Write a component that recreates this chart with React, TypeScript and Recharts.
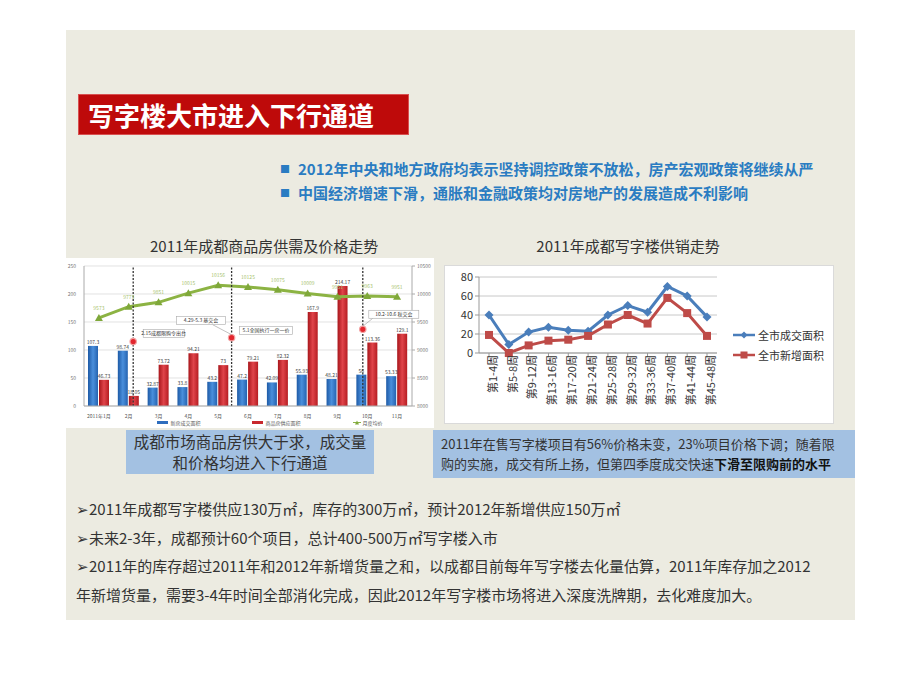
import {
  ComposedChart,
  LineChart,
  Bar,
  Line,
  XAxis,
  YAxis,
  CartesianGrid,
  Legend,
  ReferenceLine,
  ReferenceDot,
  LabelList,
} from 'recharts';

const FONT = '"Noto Sans CJK SC", "Noto Sans", sans-serif';

// 左图：2011年成都商品房供需及价格走势
const months = ['2011年1月', '2月', '3月', '4月', '5月', '6月', '7月', '8月', '9月', '10月', '11月'];
const dealArea = [107.3, 98.74, 32.87, 33.8, 43.2, 47.2, 42.09, 55.93, 48.21, 56, 53.33];
const supplyArea = [46.73, 18.05, 73.72, 94.21, 73, 79.21, 82.32, 167.9, 214.17, 113.36, 129.1];
const avgPrice = [9573, 9773, 9851, 10015, 10156, 10125, 10075, 10009, 9951, 9963, 9951];
const areaTicks = [0, 50, 100, 150, 200, 250];
const priceTicks = [8000, 8500, 9000, 9500, 10000, 10500];

// 政策节点（落在两个月份之间）
const policySlot = [1.5, 4.5, 8.5];
const policyLevel = [115, 122, 137];
const policyNotes = [['2.15成都限购令出台'], ['4.29-5.3 基交会', '5.1全国执行一房一价'], ['10.2-10.6 秋交会']];

// 右图：2011年成都写字楼供销走势
const weeks = ['第1-4周', '第5-8周', '第9-12周', '第13-16周', '第17-20周', '第21-24周', '第25-28周', '第29-32周', '第33-36周', '第37-40周', '第41-44周', '第45-48周'];
const dealWeekly = [40, 9, 22, 27, 24, 23, 40, 50, 43, 70, 60, 38];
const newWeekly = [19, 0, 8, 13, 14, 18, 30, 40, 31, 58, 42, 18];
const weeklyTicks = [0, 20, 40, 60, 80];

const monthData = months.map((m, i) => ({ month: m, deal: dealArea[i], supply: supplyArea[i], price: avgPrice[i] }));
const weekData = weeks.map((w, i) => ({ week: w, deal: dealWeekly[i], added: newWeekly[i] }));

// note box layout relative to the red dot
const noteBoxes = [
  [{ dx: 10, dy: -12, w: 41, px: -1 }],
  [{ dx: -55, dy: -21, w: 49, px: 36 }, { dx: 8, dy: -11, w: 53, px: -1 }],
  [{ dx: 6, dy: -19, w: 50, px: 4 }],
];

const renderNotes = (idx: number) => (props: any) => {
  const vb = props.viewBox ?? {};
  const cx = (vb.x ?? 0) + (vb.width ?? 0) / 2;
  const cy = (vb.y ?? 0) + (vb.height ?? 0) / 2;
  return (
    <g>
      {noteBoxes[idx].map((b, k) => (
        <g key={k}>
          {b.px >= 0 && (
            <line x1={cx + b.dx + b.px} y1={cy + b.dy + 8} x2={cx} y2={cy - 3} stroke="#999" strokeWidth={0.6} />
          )}
          <rect x={cx + b.dx} y={cy + b.dy} width={b.w} height={8} fill="#fff" stroke="#aaa" strokeWidth={0.6} />
          <text x={cx + b.dx + b.w / 2} y={cy + b.dy + 5.8} textAnchor="middle" fontSize={5} fill="#333" fontFamily={FONT}>
            {policyNotes[idx][k]}
          </text>
        </g>
      ))}
    </g>
  );
};

const Triangle = (p: any) => {
  const { cx, cy } = p;
  if (cx == null || cy == null) return <g />;
  return <polygon points={`${cx},${cy - 4} ${cx + 4},${cy + 3} ${cx - 4},${cy + 3}`} fill="#7FA83A" />;
};

const Diamond = (p: any) => {
  const { cx, cy } = p;
  if (cx == null || cy == null) return <g />;
  return <polygon points={`${cx},${cy - 4.5} ${cx + 4.5},${cy} ${cx},${cy + 4.5} ${cx - 4.5},${cy}`} fill="#4A7EBB" />;
};

const Square = (p: any) => {
  const { cx, cy } = p;
  if (cx == null || cy == null) return <g />;
  return <rect x={cx - 4} y={cy - 4} width={8} height={8} fill="#BE4B48" />;
};

const MonthLegend = () => (
  <div style={{ display: 'flex', justifyContent: 'center', gap: 52, fontSize: 5, color: '#555', fontFamily: FONT, paddingLeft: 40, paddingTop: 2 }}>
    <span style={{ display: 'flex', alignItems: 'center', gap: 2 }}>
      <svg width={11} height={3}><rect width={11} height={3} fill="#2E6DBE" /></svg>新房成交面积
    </span>
    <span style={{ display: 'flex', alignItems: 'center', gap: 2 }}>
      <svg width={11} height={3}><rect width={11} height={3} fill="#C8282D" /></svg>商品房供应面积
    </span>
    <span style={{ display: 'flex', alignItems: 'center', gap: 2 }}>
      <svg width={8} height={5}><line x1={0} y1={2.5} x2={8} y2={2.5} stroke="#8CB343" /><polygon points="4,0.5 6,4.5 2,4.5" fill="#7FA83A" /></svg>月度均价
    </span>
  </div>
);

const WeeklyLegend = () => (
  <div style={{ paddingLeft: 16, fontFamily: FONT, fontSize: 11, color: '#333', whiteSpace: 'nowrap' }}>
    <div style={{ display: 'flex', alignItems: 'center', height: 20 }}>
      <svg width={25} height={10}>
        <line x1={0} y1={5} x2={22} y2={5} stroke="#4A7EBB" strokeWidth={2.5} />
        <polygon points="11,1.5 14.5,5 11,8.5 7.5,5" fill="#4A7EBB" />
      </svg>
      全市成交面积
    </div>
    <div style={{ display: 'flex', alignItems: 'center', height: 20 }}>
      <svg width={25} height={10}>
        <line x1={0} y1={5} x2={22} y2={5} stroke="#BE4B48" strokeWidth={2.5} />
        <rect x={7.5} y={1.5} width={7} height={7} fill="#BE4B48" />
      </svg>
      全市新增面积
    </div>
  </div>
);

const abs = (left: number, top: number, extra: any = {}) => ({ position: 'absolute' as const, left, top, ...extra });

export default function App() {
  return (
    <div style={{ position: 'absolute', left: 0, top: 0, width: 920, height: 690, background: '#fff', fontFamily: FONT, overflow: 'hidden' }}>
      <div style={abs(66, 30, { width: 789, height: 590, background: '#ECEBE1' })} />

      <div style={abs(79, 95, { width: 329, height: 39, background: '#BE0A0A', boxShadow: '0 0 0 1px #d85050' })}>
        <div style={{ color: '#fff', fontSize: 26, fontWeight: 700, lineHeight: '39px', paddingLeft: 9, letterSpacing: 0 }}>
          写字楼大市进入下行通道
        </div>
      </div>

      <div style={abs(280, 157, { color: '#2A7CC2', fontSize: 15, fontWeight: 700, lineHeight: '24px', whiteSpace: 'nowrap' })}>
        <div><span style={{ fontSize: 10, marginRight: 8, verticalAlign: 2 }}>■</span>2012年中央和地方政府均表示坚持调控政策不放松，房产宏观政策将继续从严</div>
        <div><span style={{ fontSize: 10, marginRight: 8, verticalAlign: 2 }}>■</span>中国经济增速下滑，通胀和金融政策均对房地产的发展造成不利影响</div>
      </div>

      <div style={abs(150, 235, { width: 200, textAlign: 'center', fontSize: 15, color: '#333', whiteSpace: 'nowrap' })}>
        2011年成都商品房供需及价格走势
      </div>
      <div style={abs(528, 235, { width: 200, textAlign: 'center', fontSize: 15, color: '#333', whiteSpace: 'nowrap' })}>
        2011年成都写字楼供销走势
      </div>

      <div style={abs(66, 258, { width: 368, height: 170, background: '#fff' })}>
        <ComposedChart width={368} height={170} data={monthData} margin={{ top: 8, right: 0, left: 0, bottom: 0 }} barGap={1}>
          <defs>
            <linearGradient id="gBlue" x1="0" y1="0" x2="1" y2="0">
              <stop offset="0%" stopColor="#1D5AA6" />
              <stop offset="50%" stopColor="#4A8FDC" />
              <stop offset="100%" stopColor="#2563B0" />
            </linearGradient>
            <linearGradient id="gRed" x1="0" y1="0" x2="1" y2="0">
              <stop offset="0%" stopColor="#A8161B" />
              <stop offset="50%" stopColor="#E0444A" />
              <stop offset="100%" stopColor="#B51D22" />
            </linearGradient>
          </defs>
          <CartesianGrid vertical={false} stroke="#D6D6D6" strokeWidth={0.7} yAxisId="area" />
          <XAxis dataKey="month" tick={{ fontSize: 5, fill: '#555' }} tickLine={false} axisLine={{ stroke: '#AAA' }} height={11} interval={0} />
          <XAxis xAxisId="pos" type="number" domain={[-0.5, 10.5]} allowDataOverflow hide />
          <YAxis yAxisId="area" domain={[0, 250]} ticks={areaTicks} interval={0} width={18} tick={{ fontSize: 5, fill: '#777' }} tickLine={false} axisLine={{ stroke: '#AAA' }} />
          <YAxis yAxisId="price" orientation="right" domain={[8000, 10500]} ticks={priceTicks} interval={0} width={22} tick={{ fontSize: 5, fill: '#777' }} tickLine={{ stroke: '#AAA' }} tickSize={3} axisLine={{ stroke: '#AAA' }} />
          <Legend verticalAlign="bottom" height={11} content={<MonthLegend />} />
          <Bar yAxisId="area" dataKey="deal" name="新房成交面积" fill="url(#gBlue)" barSize={10} isAnimationActive={false}>
            <LabelList dataKey="deal" position="top" offset={2} fontSize={5} fill="#444" />
          </Bar>
          <Bar yAxisId="area" dataKey="supply" name="商品房供应面积" fill="url(#gRed)" barSize={10} isAnimationActive={false}>
            <LabelList dataKey="supply" position="top" offset={2} fontSize={5} fill="#444" />
          </Bar>
          <Line yAxisId="price" dataKey="price" name="月度均价" stroke="#8CB343" strokeWidth={3} dot={<Triangle />} isAnimationActive={false}>
            <LabelList dataKey="price" position="top" offset={8} fontSize={5} fill="#A7C36E" />
          </Line>
          {policySlot.map((s) => (
            <ReferenceLine key={`l${s}`} xAxisId="pos" yAxisId="area" x={s} stroke="#333" strokeDasharray="2 1.5" strokeWidth={1.3} />
          ))}
          {policySlot.map((s, i) => (
            <ReferenceDot
              key={`d${s}`}
              xAxisId="pos"
              yAxisId="area"
              x={s}
              y={policyLevel[i]}
              r={3.2}
              fill="#E2262E"
              stroke="#F3A3A3"
              strokeWidth={1.2}
              label={renderNotes(i)}
            />
          ))}
        </ComposedChart>
      </div>

      <div style={abs(445, 266, { width: 388, height: 157, background: '#fff', boxShadow: '0 0 0 1px #DADADA' })}>
        <LineChart width={388} height={157} data={weekData} margin={{ top: 11, right: 6, left: 8, bottom: 8 }}>
          <CartesianGrid vertical={false} stroke="#C8C8C8" />
          <XAxis
            dataKey="week"
            interval={0}
            padding={{ left: 10, right: 10 }}
            angle={-90}
            textAnchor="end"
            height={62}
            tick={{ fontSize: 11, fill: '#333', dy: -4, dx: 0 }}
            tickLine={{ stroke: '#999' }}
            tickSize={4}
            axisLine={{ stroke: '#999' }}
          />
          <YAxis domain={[0, 80]} ticks={weeklyTicks} interval={0} width={26} tick={{ fontSize: 11, fill: '#333' }} tickLine={{ stroke: '#999' }} tickSize={4} axisLine={{ stroke: '#999' }} />
          <Legend layout="vertical" align="right" verticalAlign="middle" wrapperStyle={{ width: 110 }} content={<WeeklyLegend />} />
          <Line dataKey="deal" name="全市成交面积" stroke="#4A7EBB" strokeWidth={3} dot={<Diamond />} isAnimationActive={false} />
          <Line dataKey="added" name="全市新增面积" stroke="#BE4B48" strokeWidth={3} dot={<Square />} isAnimationActive={false} />
        </LineChart>
      </div>

      <div style={abs(126, 430, { width: 248, height: 44, background: '#A3C1E2', color: '#333', fontSize: 15.5, lineHeight: '21px', textAlign: 'center', paddingTop: 1, boxSizing: 'border-box', whiteSpace: 'nowrap' })}>
        <div>成都市场商品房供大于求，成交量</div>
        <div>和价格均进入下行通道</div>
      </div>

      <div style={abs(433, 430, { width: 422, height: 48, background: '#A3C1E2', color: '#333', fontSize: 13, lineHeight: '20px', paddingLeft: 8, paddingTop: 4, boxSizing: 'border-box', whiteSpace: 'nowrap' })}>
        <div>2011年在售写字楼项目有56%价格未变，23%项目价格下调；随着限</div>
        <div>购的实施，成交有所上扬，但第四季度成交快速<b style={{ color: '#111' }}>下滑至限购前的水平</b></div>
      </div>

      <div style={abs(76, 495, { color: '#333', fontSize: 15, lineHeight: '28.5px', whiteSpace: 'nowrap' })}>
        <div>➢2011年成都写字楼供应130万㎡，库存的300万㎡，预计2012年新增供应150万㎡</div>
        <div>➢未来2-3年，成都预计60个项目，总计400-500万㎡写字楼入市</div>
        <div>➢2011年的库存超过2011年和2012年新增货量之和，以成都目前每年写字楼去化量估算，2011年库存加之2012</div>
        <div>年新增货量，需要3-4年时间全部消化完成，因此2012年写字楼市场将进入深度洗牌期，去化难度加大。</div>
      </div>
    </div>
  );
}
